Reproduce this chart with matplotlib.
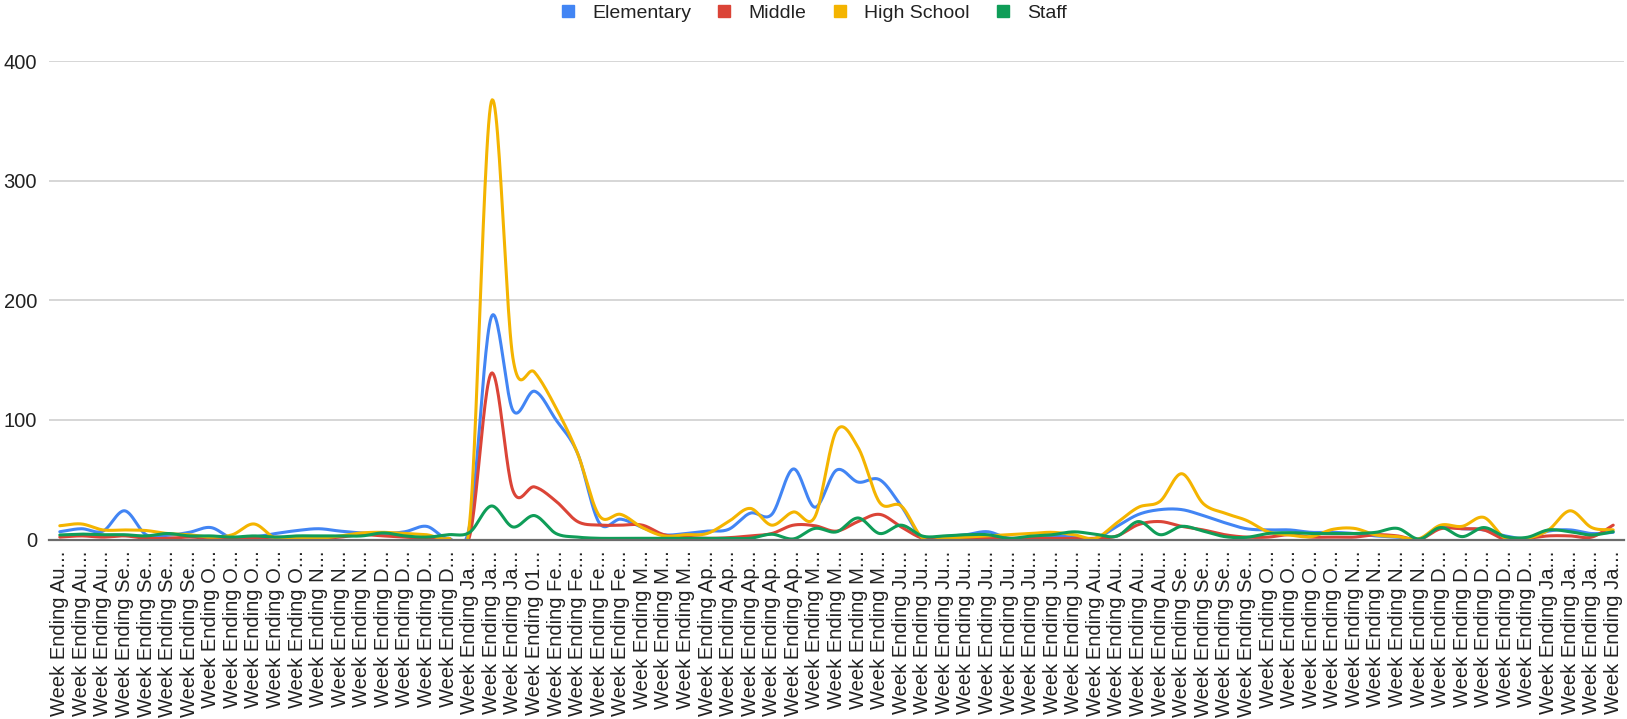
import numpy as np
import matplotlib
matplotlib.use("Agg")
import matplotlib.pyplot as plt
from matplotlib.lines import Line2D

plt.rcParams["font.family"] = ["Liberation Sans", "DejaVu Sans"]

# Week-ending categories (labels are shown truncated, as in the sheet export)
month_prefixes = (
    ["Au"] * 3 + ["Se"] * 4 + ["O"] * 5 + ["N"] * 3 + ["D"] * 4 +
    ["Ja"] * 3 + ["01"] + ["Fe"] * 4 + ["M"] * 3 + ["Ap"] * 5 + ["M"] * 4 +
    ["Ju"] * 9 + ["Au"] * 4 + ["Se"] * 4 + ["O"] * 4 + ["N"] * 4 +
    ["D"] * 5 + ["Ja"] * 4
)
week_labels = ["Week Ending " + p + "..." for p in month_prefixes]

elementary = [
    6.5, 9, 7, 24, 4, 3.5, 6, 10, 1, 2, 5, 7.5, 9, 7, 5.5, 5, 6.5, 11, 1, 12,
    186, 108, 124, 100, 72, 14, 17, 10, 4, 5, 7, 8.5, 22, 21, 59, 27, 58, 48, 50, 28,
    1, 2.5, 4, 6.5, 1, 2, 3, 2, 1, 11, 21, 25, 25, 20, 14, 9, 8, 8, 6, 6,
    5, 3, 2, 0, 10, 9, 8, 3, 1, 7, 8, 5, 6,
]
middle = [
    2, 3, 2, 3, 1, 1, 2, 1, 1, 1, 2, 1, 1, 2, 4, 3, 2, 1, 0, 3,
    139, 41, 44, 32, 15, 12, 12, 12, 4, 2, 1, 1.5, 3, 5, 12, 11.5, 7, 15, 21, 10.5,
    1, 1, 1, 1, 1, 1, 1, 1, 1, 3, 12.5, 15, 11, 8, 4, 2, 2, 4, 2, 2,
    2, 4, 3, 0, 9, 9, 8, 0, 1, 3, 3, 2, 12,
]
high_school = [
    11.5, 13, 8, 8, 7.5, 5, 4, 2, 4, 13, 1, 1, 1, 3, 5.5, 6, 5, 4, 1, 15,
    366, 152, 140, 110, 72, 20, 21, 10, 3, 4, 5, 15, 26, 12, 23, 19, 91, 77, 31, 28,
    1, 1, 2, 3, 4, 5, 6, 4, 1, 14, 27, 32, 55, 30, 22, 16, 6.5, 3.8, 2.4, 8.5,
    9.3, 3.8, 2.4, 0.7, 12, 11, 18.5, 1, 1, 8, 24, 10, 8,
]
staff = [
    3.8, 4.5, 4, 4, 3, 5, 3, 3, 2, 3, 2, 3, 3, 3, 3, 5.5, 3, 2, 4, 6,
    28, 10.5, 20, 5, 2, 1, 1, 1, 1, 1, 1, 1, 1, 4.4, 0.5, 9.3, 6.4, 18, 5, 12,
    2.8, 3, 4, 4, 1, 2.8, 4, 6.4, 4.4, 2.8, 15, 4, 11, 7, 2.4, 1.8, 5, 5.7, 5, 5,
    5, 6, 9.3, 0.4, 10, 2.4, 10, 2.4, 1.8, 8, 6.5, 3.8, 6.5,
]

series_names = ["Elementary", "Middle", "High School", "Staff"]
series_colors = ["#4285F4", "#DB4437", "#F4B400", "#0F9D58"]
y_ticks = [0, 100, 200, 300, 400]


def smooth_curve(values, steps=24):
    """Cubic Hermite (Catmull-Rom) curve through the weekly values."""
    y = np.asarray(values, dtype=float)
    n = len(y)
    m = np.empty(n)
    m[1:-1] = (y[2:] - y[:-2]) / 2.0
    m[0] = y[1] - y[0]
    m[-1] = y[-1] - y[-2]
    xs, ys = [], []
    t = np.linspace(0, 1, steps, endpoint=False)
    h00 = 2 * t**3 - 3 * t**2 + 1
    h10 = t**3 - 2 * t**2 + t
    h01 = -2 * t**3 + 3 * t**2
    h11 = t**3 - t**2
    for i in range(n - 1):
        xs.append(i + t)
        ys.append(h00 * y[i] + h10 * m[i] + h01 * y[i + 1] + h11 * m[i + 1])
    xs.append(np.array([n - 1.0]))
    ys.append(np.array([y[-1]]))
    return np.concatenate(xs), np.concatenate(ys)


fig = plt.figure(figsize=(16.27, 7.19), dpi=100)
ax = fig.add_axes([49 / 1627, 1 - 539.5 / 719, 1575 / 1627, (539.5 - 61.2) / 719])

x = np.arange(len(week_labels))
for name, vals, col in zip(series_names, [elementary, middle, high_school, staff], series_colors):
    sx, sy = smooth_curve(vals)
    ax.plot(sx, sy, color=col, lw=2.2, solid_capstyle="round", solid_joinstyle="round", label=name)

ax.set_xlim(-0.5, len(week_labels) - 0.5)
ax.set_ylim(0, 400)
ax.set_yticks(y_ticks)
ax.set_yticklabels([str(v) for v in y_ticks])
ax.set_xticks(x)
ax.set_xticklabels(week_labels, rotation=90, ha="center", va="top")

for v in y_ticks[1:]:
    ax.axhline(v, color="#d6d6d6", lw=1.4, zorder=0)
ax.axhline(0, color="#6b6b6b", lw=1.6, zorder=5, clip_on=False)

for s in ax.spines.values():
    s.set_visible(False)
ax.tick_params(axis="both", length=0, colors="#222222", labelsize=14.5)
ax.tick_params(axis="x", pad=8)
ax.tick_params(axis="y", pad=8.5)

handles = [Line2D([], [], marker="s", ls="none", markersize=8, color=c) for c in series_colors]
fig.legend(handles, series_names, loc="center", bbox_to_anchor=(0.5, 1 - 13 / 719),
           ncol=4, frameon=False, fontsize=14, handlelength=0.8, handletextpad=0.85,
           columnspacing=1.3, labelcolor="#222222")

fig.savefig("out.png", dpi=100, facecolor="white")
